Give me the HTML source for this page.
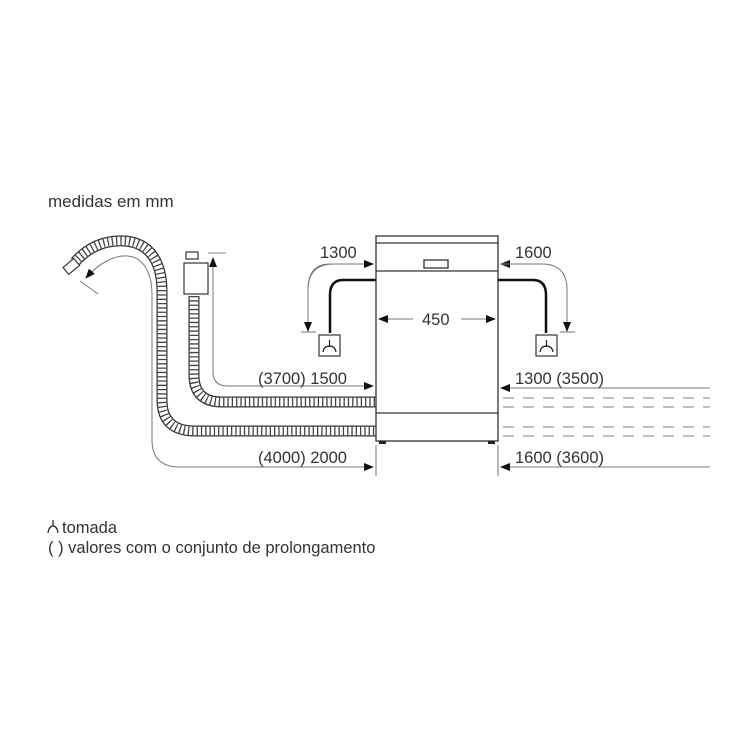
<!DOCTYPE html>
<html><head><meta charset="utf-8"><style>
html,body{margin:0;padding:0;background:#fff;}
svg{display:block}
text{font-family:"Liberation Sans",Arial,sans-serif;fill:#333;}
</style></head><body>
<svg width="750" height="750" viewBox="0 0 750 750" xmlns="http://www.w3.org/2000/svg">
<defs>
<marker id="ah" markerWidth="10" markerHeight="8" refX="9" refY="4" orient="auto" markerUnits="userSpaceOnUse">
<path d="M0,0 L10,4 L0,8 Z" fill="#111"/></marker>
</defs>
<text x="48" y="207" font-size="17">medidas em mm</text>

<!-- hoses -->
<g fill="none">
<path d="M75,262 C90,245 108,240 125,241 C150,243 162,262 162,292 L162,400 Q162,431 195,431 L377,431" stroke="#333" stroke-width="11"/>
<path d="M75,262 C90,245 108,240 125,241 C150,243 162,262 162,292 L162,400 Q162,431 195,431 L377,431" stroke="#fff" stroke-width="8.5"/>
<path d="M75,262 C90,245 108,240 125,241 C150,243 162,262 162,292 L162,400 Q162,431 195,431 L377,431" stroke="#444" stroke-width="8.5" stroke-dasharray="1.3 3"/>
<path d="M194,296 L194,375 Q194,402 222,402 L377,402" stroke="#333" stroke-width="11"/>
<path d="M194,296 L194,375 Q194,402 222,402 L377,402" stroke="#fff" stroke-width="8.5"/>
<path d="M194,296 L194,375 Q194,402 222,402 L377,402" stroke="#444" stroke-width="8.5" stroke-dasharray="1.3 3"/>
</g>
<!-- nozzle -->
<rect x="64" y="262" width="14" height="9" transform="rotate(-40 71 266)" fill="#fff" stroke="#333" stroke-width="1.2"/>
<!-- tap -->
<rect x="186" y="252" width="12" height="7" fill="#fff" stroke="#333" stroke-width="1.2"/>
<rect x="184" y="263" width="24" height="31" fill="#fff" stroke="#333" stroke-width="1.2"/>
<line x1="208" y1="253" x2="226" y2="253" stroke="#666" stroke-width="0.8"/>

<!-- appliance -->
<g fill="#fff" stroke="#333" stroke-width="1.3">
<rect x="376" y="236" width="122" height="205"/>
<line x1="376" y1="243" x2="498" y2="243"/>
<line x1="376" y1="271" x2="498" y2="271"/>
<line x1="376" y1="413" x2="498" y2="413"/>
<rect x="424" y="260" width="24" height="8"/>
</g>
<rect x="379" y="441" width="7" height="3" fill="#222"/>
<rect x="488" y="441" width="7" height="3" fill="#222"/>

<!-- gray dimension lines -->
<g fill="none" stroke="#777" stroke-width="1">
<path d="M128,256 C115,255 100,262 86,278" marker-end="url(#ah)"/>
<path d="M128,256 C145,258 152,275 152,295 L152,440 Q152,467 180,467 L373,467" marker-end="url(#ah)"/>
<line x1="80" y1="281" x2="98" y2="294"/>
<path d="M213,372 L213,258" marker-end="url(#ah)"/>
<path d="M213,372 Q213,386 228,386 L373,386" marker-end="url(#ah)"/>
<path d="M308,318 L308,290 Q308,264 334,264 L373,264" marker-end="url(#ah)"/>
<path d="M330,264 Q308,264 308,290 L308,331" marker-end="url(#ah)"/>
<line x1="301" y1="332" x2="316" y2="332"/>
<path d="M520,264 L501,264" marker-end="url(#ah)"/>
<path d="M500,264 L542,264 Q567,264 567,290 L567,331" marker-end="url(#ah)"/>
<line x1="560" y1="332" x2="575" y2="332"/>
<path d="M710,388 L501,388" marker-end="url(#ah)"/>
<path d="M710,467 L501,467" marker-end="url(#ah)"/>
<line x1="376" y1="445" x2="376" y2="476"/>
<line x1="498" y1="445" x2="498" y2="476"/>
<path d="M413,319 L379,319" marker-end="url(#ah)"/>
<path d="M461,319 L495,319" marker-end="url(#ah)"/>
</g>
<g stroke="#999" stroke-width="1.2" stroke-dasharray="11 9">
<line x1="503" y1="398" x2="710" y2="398"/>
<line x1="503" y1="407" x2="710" y2="407"/>
<line x1="503" y1="427" x2="710" y2="427"/>
<line x1="503" y1="436" x2="710" y2="436"/>
</g>

<!-- black pipes -->
<g fill="none" stroke="#111" stroke-width="2.5">
<path d="M376,280 L343,280 Q330,280 330,295 L330,333"/>
<path d="M498,280 L533,280 Q546,280 546,295 L546,333"/>
</g>
<!-- sockets -->
<g fill="#fff" stroke="#333" stroke-width="1.2">
<rect x="319" y="335" width="21" height="21"/>
<rect x="536" y="335" width="21" height="21"/>
</g>
<g fill="none" stroke="#222" stroke-width="1.2">
<path d="M329.5,340 L329.5,347 M323,352 Q324,346 329.5,346 Q335,346 336,352"/>
<path d="M546.5,340 L546.5,347 M540,352 Q541,346 546.5,346 Q552,346 553,352"/>
</g>

<!-- labels -->
<g font-size="16.5">
<text x="320" y="258">1300</text>
<text x="515" y="258">1600</text>
<text x="422" y="325">450</text>
<text x="258" y="384">(3700) 1500</text>
<text x="515" y="384">1300 (3500)</text>
<text x="258" y="463">(4000) 2000</text>
<text x="515" y="463">1600 (3600)</text>
<text x="62" y="533">tomada</text>
<text x="48" y="553">( ) valores com o conjunto de prolongamento</text>
</g>
<path d="M48,533 Q49,526 53,526 Q57,526 58,533 M53,520 L53,526" fill="none" stroke="#222" stroke-width="1.2"/>
</svg>
</body></html>
